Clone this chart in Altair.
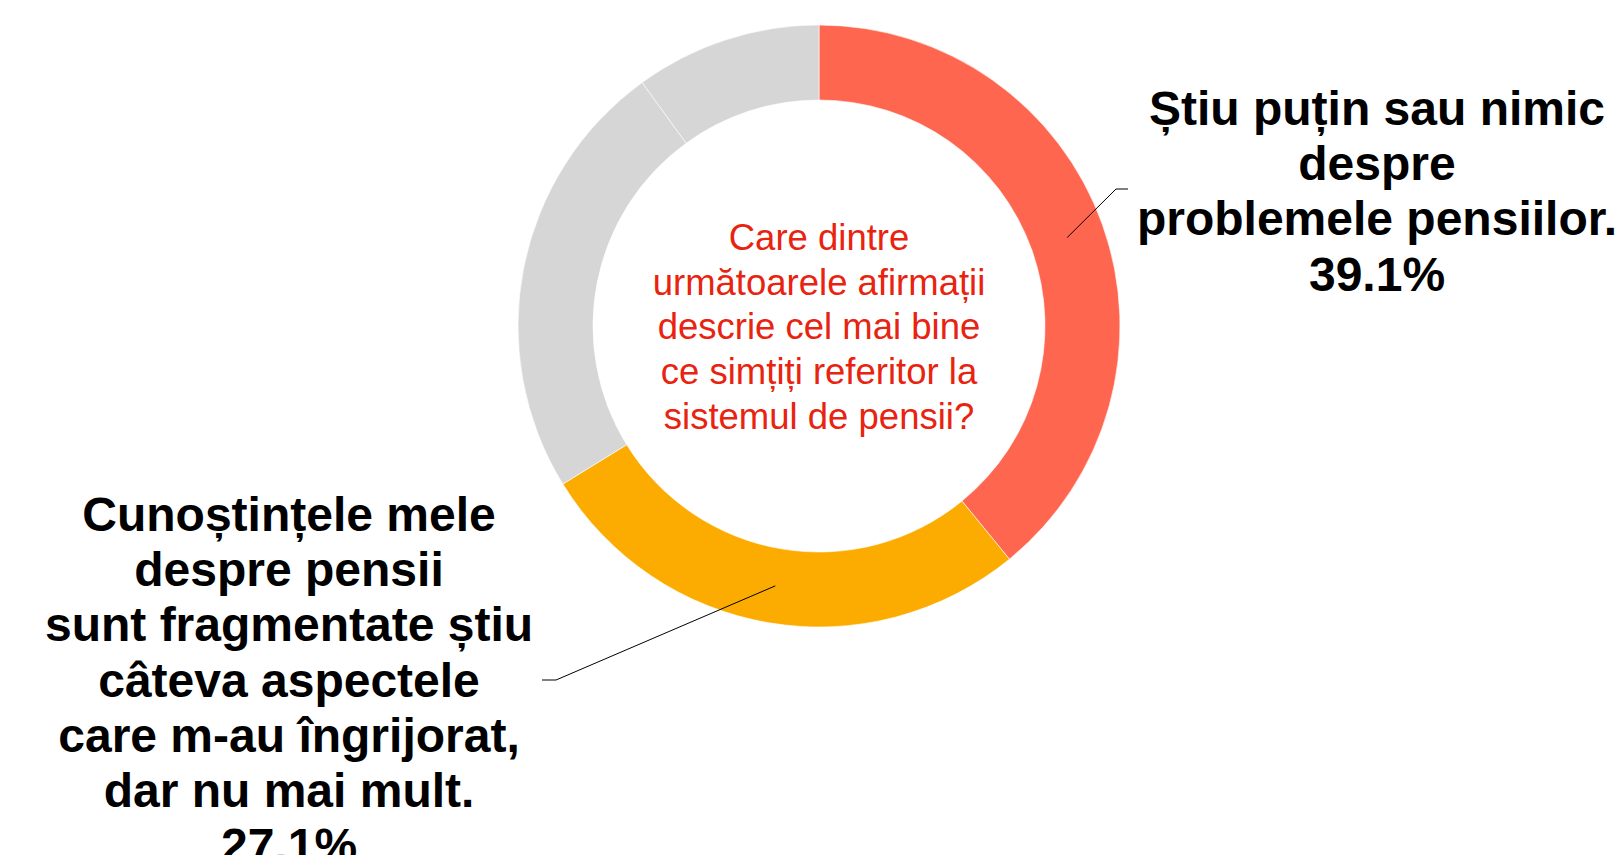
import math
import altair as alt
import pandas as pd

# ---- data ----
categories = [
    "Știu puțin sau nimic despre problemele pensiilor.",
    "Cunoștințele mele despre pensii sunt fragmentate",
    "Altele 1",
    "Altele 2",
]
values = [39.1, 27.1, 23.8, 10.0]
colors = ["#FF6650", "#FCAC00", "#D6D6D6", "#D6D6D6"]

question_lines = [
    "Care dintre",
    "următoarele afirmații",
    "descrie cel mai bine",
    "ce simțiți referitor la",
    "sistemul de pensii?",
]
right_label_lines = [
    "Știu puțin sau nimic",
    "despre",
    "problemele pensiilor.",
    "39.1%",
]
left_label_lines = [
    "Cunoștințele mele",
    "despre pensii",
    "sunt fragmentate știu",
    "câteva aspectele",
    " care m-au îngrijorat,",
    "dar nu mai mult.",
    "27.1%",
]

# ---- layout ----
W, H = 1607, 847
CX, CY = 811, 318
R_IN, R_OUT = 226, 301
R_MID = (R_IN + R_OUT) / 2

df = pd.DataFrame({"cat": categories, "value": values, "idx": range(len(values))})

arc = (
    alt.Chart(df)
    .mark_arc(innerRadius=R_IN, outerRadius=R_OUT, stroke="white", strokeWidth=0.6)
    .encode(
        theta=alt.Theta("value:Q", stack=True, scale=alt.Scale(domain=[0, 100])),
        color=alt.Color("cat:N", scale=alt.Scale(domain=categories, range=colors), legend=None),
        order=alt.Order("idx:Q"),
        x=alt.value(CX),
        y=alt.value(CY),
    )
)

# leader lines: start at mid-angle of segment, mid-radius
total = sum(values)
cum = 0
mids = []
for v in values:
    mids.append((cum + v / 2) / total * 2 * math.pi)
    cum += v

def mid_point(i):
    a = mids[i]
    return CX + R_MID * math.sin(a), CY - R_MID * math.cos(a)

rx0, ry0 = mid_point(0)
lx0, ly0 = mid_point(1)
leader = pd.DataFrame({
    "x": [rx0, 1108, 1120, lx0, 548, 534],
    "y": [ry0, 181, 181, ly0, 672, 672],
    "g": ["r", "r", "r", "l", "l", "l"],
    "o": [0, 1, 2, 0, 1, 2],
})
xs = alt.Scale(domain=[0, W], range=[0, W])
ys = alt.Scale(domain=[0, H], range=[0, H])
lines = (
    alt.Chart(leader)
    .mark_line(color="black", strokeWidth=1)
    .encode(
        x=alt.X("x:Q", scale=xs, axis=None),
        y=alt.Y("y:Q", scale=ys, axis=None),
        detail="g:N",
        order="o:Q",
    )
)

texts = pd.DataFrame({
    "t": ["\n".join(question_lines), "\n".join(right_label_lines), "\n".join(left_label_lines)],
    "x": [CX, 1369, 281],
    "y": [231, 103, 509],
    "k": ["q", "r", "l"],
})

q_text = (
    alt.Chart(texts[texts.k == "q"])
    .mark_text(font="Liberation Sans", fontSize=36.5, lineHeight=44.7, color="#E8230F",
               align="center", baseline="middle", lineBreak="\n")
    .encode(x=alt.X("x:Q", scale=xs, axis=None), y=alt.Y("y:Q", scale=ys, axis=None), text="t:N")
)
lab_text = (
    alt.Chart(texts[texts.k != "q"])
    .mark_text(font="Liberation Sans", fontSize=48, fontWeight="bold", lineHeight=55.2,
               color="black", align="center", baseline="middle", lineBreak="\n")
    .encode(x=alt.X("x:Q", scale=xs, axis=None), y=alt.Y("y:Q", scale=ys, axis=None), text="t:N")
)

chart = (
    alt.layer(arc, lines, q_text, lab_text)
    .properties(width=W, height=H, padding=0, autosize=alt.AutoSizeParams(type="none"))
    .configure_view(stroke=None)
)

chart.save("out.html", embed_options={"renderer": "svg", "actions": False})
